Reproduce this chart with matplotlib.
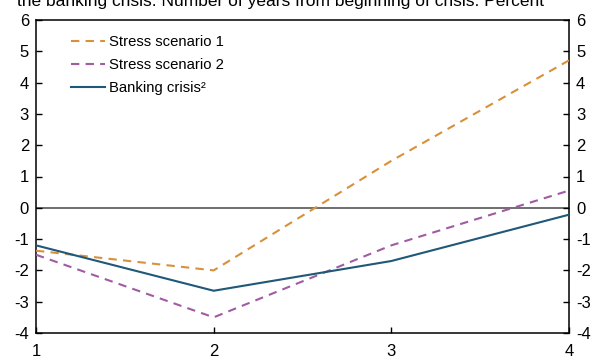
import matplotlib
matplotlib.use("Agg")
import matplotlib.pyplot as plt

plt.rcParams['font.family'] = ['Liberation Sans', 'DejaVu Sans']
plt.rcParams['axes.unicode_minus'] = False

years = [1, 2, 3, 4]
stress_1 = [-1.37, -2.0, 1.5, 4.71]
stress_2 = [-1.5, -3.5, -1.2, 0.55]
banking_crisis = [-1.2, -2.65, -1.7, -0.22]
y_ticks = [6, 5, 4, 3, 2, 1, 0, -1, -2, -3, -4]

fig = plt.figure(figsize=(6.01, 3.6), dpi=100)
left, right, top, bottom = 36, 569, 20, 333
ax = fig.add_axes([left / 601, 1 - bottom / 360, (right - left) / 601, (bottom - top) / 360])

ax.axhline(0, color='#555555', lw=1.2, zorder=1)
ax.plot(years, stress_1, color='#D9903A', lw=1.5, dashes=(4, 3), label='Stress scenario 1', zorder=3)
ax.plot(years, stress_2, color='#A05BA3', lw=1.5, dashes=(4, 3), label='Stress scenario 2', zorder=3)
ax.plot(years, banking_crisis, color='#1F5878', lw=1.5, label='Banking crisis²', zorder=4)

ax.set_xlim(1, 4)
ax.set_ylim(-4, 6)
ax.set_xticks(years)
ax.set_yticks(y_ticks)
ax.tick_params(axis='both', direction='in', length=4, width=1, labelsize=12,
               right=True, labelright=True, pad=5)
ax.tick_params(axis='x', pad=8)
for s in ax.spines.values():
    s.set_linewidth(1.1)

ax.legend(loc='upper left', bbox_to_anchor=(0.04, 0.995), frameon=False, fontsize=10.7,
          handlelength=2.3, handletextpad=0.25, labelspacing=0.62)

fig.text(17 / 601, 1 - 6 / 360, 'the banking crisis. Number of years from beginning of crisis. Percent',
         fontsize=12.5, va='baseline', ha='left')

fig.savefig('out.png', dpi=100)
